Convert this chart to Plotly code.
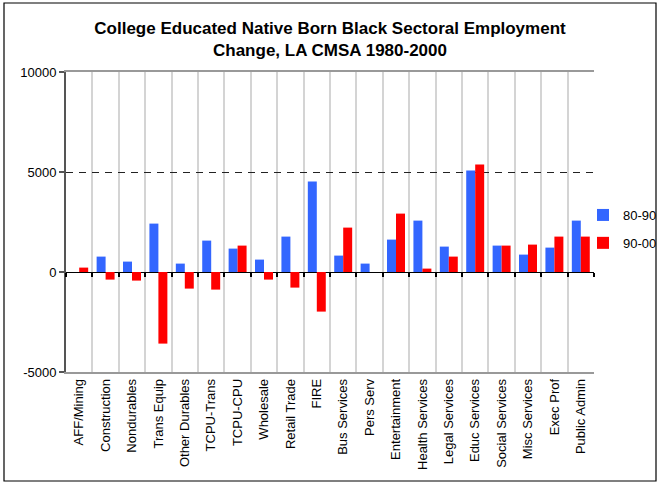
import plotly.graph_objects as go

categories = ["AFF/Mining", "Construction", "Nondurables", "Trans Equip", "Other Durables",
              "TCPU-Trans", "TCPU-CPU", "Wholesale", "Retail Trade", "FIRE",
              "Bus Services", "Pers Serv", "Entertainment", "Health Services", "Legal Services",
              "Educ Services", "Social Services", "Misc Services", "Exec Prof", "Public Admin"]
s_80_90 = [0, 770, 520, 2420, 420, 1570, 1170, 620, 1770, 4520,
           820, 420, 1620, 2570, 1270, 5070, 1320, 870, 1220, 2570]
s_90_00 = [220, -380, -430, -3580, -830, -880, 1320, -380, -780, -1980,
           2220, 0, 2920, 170, 770, 5370, 1320, 1370, 1770, 1770]
y_ticks = [-5000, 0, 5000, 10000]

W, H = 659, 485
L, R, T, B = 66, 65, 72, 113
pw, ph = W - L - R, H - T - B

def px_x(p):
    return (p - L) / pw

def px_y(p):
    return (H - B - p) / ph

font = "Liberation Sans, Arial, sans-serif"

fig = go.Figure()
fig.add_trace(go.Bar(x=categories, y=s_80_90, name="80-90", marker_color="#3366FF",
                     marker_line_width=0, legendgroup="a"))
fig.add_trace(go.Bar(x=categories, y=s_90_00, name="90-00", marker_color="#FF0000",
                     marker_line_width=0, legendgroup="b"))
# empty carrier trace so the tick axis at zero is drawn
fig.add_trace(go.Bar(x=categories, y=[None] * len(categories), xaxis="x2", showlegend=False,
                     hoverinfo="skip"))

fig.update_layout(
    width=W, height=H,
    margin=dict(l=L, r=R, t=T, b=B, pad=0, autoexpand=False),
    paper_bgcolor="white", plot_bgcolor="white",
    font=dict(family=font, size=13, color="black"),
    title=dict(text="<b>College Educated Native Born Black Sectoral Employment<br>Change, LA CMSA 1980-2000</b>",
               x=0.5, xref="paper", xanchor="center", y=1 - 34 / H, yanchor="middle",
               font=dict(size=17, family=font, color="black")),
    barmode="group", bargap=0.32, bargroupgap=0,
    legend=dict(x=px_x(583), y=px_y(200), xanchor="left", yanchor="top",
                traceorder="grouped", tracegroupgap=8, itemwidth=30,
                font=dict(size=13, family=font), bgcolor="rgba(0,0,0,0)"),
    xaxis=dict(type="category", tickson="boundaries", showgrid=True, gridcolor="#d4d4d4",
               gridwidth=1.5, ticks="", tickangle=-90, showline=True, mirror=True,
               linecolor="#999999", linewidth=1.5, tickfont=dict(size=13, family=font),
               range=[-0.5, 19.5]),
    xaxis2=dict(overlaying="x", anchor="free", position=px_y(272), type="category",
                range=[-0.5, 19.5], tickson="boundaries",
                ticks="outside", ticklen=4, tickcolor="black", tickwidth=1.5,
                showticklabels=False, showgrid=False, showline=False, zeroline=False),
    yaxis=dict(range=[-5000, 10000], tickvals=y_ticks, ticktext=[str(v) for v in y_ticks],
               showgrid=True, gridcolor="#222222", griddash="7px,6px", gridwidth=1,
               zeroline=True, zerolinecolor="black", zerolinewidth=1.2,
               showline=True, linecolor="#555555", linewidth=2,
               ticks="outside", ticklen=5, tickcolor="#555555", tickwidth=1.5,
               tickfont=dict(size=13, family=font)),
    yaxis2=dict(overlaying="y", side="right", range=[-5000, 10000], showgrid=False,
                showticklabels=False, showline=True, linecolor="#999999", linewidth=1.5,
                zeroline=False, ticks=""),
    shapes=[dict(type="rect", xref="paper", yref="paper",
                 x0=px_x(4), x1=px_x(656), y0=px_y(481), y1=px_y(3),
                 line=dict(color="black", width=1.2), fillcolor="rgba(0,0,0,0)", layer="above")],
)

fig.write_html("out.html")
